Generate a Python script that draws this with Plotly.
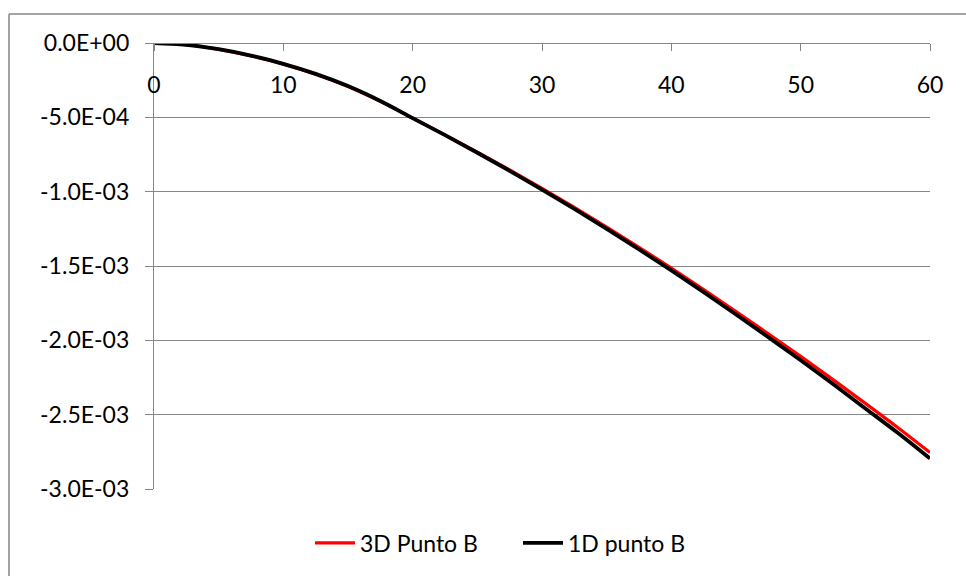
import plotly.graph_objects as go

# Horizontal position along the element (0 to 60)
x_vals = [0, 2.5, 5, 7.5, 10, 12.5, 15, 17.5, 20, 22.5, 25, 27.5, 30,
          32.5, 35, 37.5, 40, 42.5, 45, 47.5, 50, 52.5, 55, 57.5, 60]

# Vertical displacement at point B, 3D model (units of 1e-4)
punto_b_3d = [0, -0.12, -0.43, -0.87, -1.42, -2.10, -2.93, -3.93, -5.05,
              -6.18, -7.34, -8.54, -9.78, -11.06, -12.38, -13.74, -15.14,
              -16.58, -18.06, -19.56, -21.08, -22.64, -24.24, -25.86, -27.55]

# Vertical displacement at point B, 1D model (units of 1e-4)
punto_b_1d = [0, -0.12, -0.42, -0.85, -1.40, -2.08, -2.90, -3.90, -5.05,
              -6.20, -7.38, -8.60, -9.86, -11.16, -12.50, -13.88, -15.30,
              -16.76, -18.26, -19.79, -21.34, -22.94, -24.58, -26.22, -27.95]

series_names = ["3D Punto B", "1D punto B"]

x_ticks = [0, 10, 20, 30, 40, 50, 60]
y_ticks = [0, -0.0005, -0.001, -0.0015, -0.002, -0.0025, -0.003]
y_tick_text = ["0.0E+00", "-5.0E-04", "-1.0E-03", "-1.5E-03",
               "-2.0E-03", "-2.5E-03", "-3.0E-03"]

GRAY = "#868686"
FONT = dict(family="Lato, 'Open Sans', sans-serif", size=23, color="#000000")

W, H = 966, 576
ML, MR, MT, MB = 154, 36, 43, 87
PW, PH = W - ML - MR, H - MT - MB


def px_to_paper_x(px):
    return (px - ML) / PW


def px_to_paper_y(py):
    return (H - MB - py) / PH


fig = go.Figure()
fig.add_trace(go.Scatter(
    x=x_vals, y=[v * 1e-4 for v in punto_b_3d], name=series_names[0],
    mode="lines", line=dict(color="#FF0000", width=3.2, shape="spline"),
))
fig.add_trace(go.Scatter(
    x=x_vals, y=[v * 1e-4 for v in punto_b_1d], name=series_names[1],
    mode="lines", line=dict(color="#000000", width=3.8, shape="spline"),
))

# Outer chart-area frame (left and top edges, running off the canvas)
left_x = px_to_paper_x(9)
top_y = px_to_paper_y(14)
fig.add_shape(type="line", xref="paper", yref="paper",
              x0=left_x, x1=left_x, y0=top_y, y1=px_to_paper_y(590),
              line=dict(color=GRAY, width=1.5))
fig.add_shape(type="line", xref="paper", yref="paper",
              x0=left_x, x1=px_to_paper_x(980), y0=top_y, y1=top_y,
              line=dict(color=GRAY, width=1.5))

fig.update_layout(
    width=W, height=H,
    margin=dict(l=ML, r=MR, t=MT, b=MB),
    paper_bgcolor="white", plot_bgcolor="white",
    font=FONT,
    showlegend=True,
    legend=dict(
        orientation="h", x=px_to_paper_x(310), xanchor="left",
        y=px_to_paper_y(543), yanchor="middle",
        font=FONT, bgcolor="rgba(0,0,0,0)", itemwidth=40,
        entrywidth=153, entrywidthmode="pixels",
    ),
    xaxis=dict(
        range=[0, 60], tickvals=x_ticks, ticktext=[str(t) for t in x_ticks],
        anchor="free", position=1, side="bottom",
        showgrid=False, zeroline=False,
        showline=True, linecolor=GRAY, linewidth=1.3,
        ticks="outside", ticklen=7, tickcolor=GRAY, tickwidth=1.3,
        ticklabelstandoff=14,
    ),
    yaxis=dict(
        range=[-0.003, 0], tickvals=y_ticks, ticktext=y_tick_text,
        showgrid=True, gridcolor=GRAY, gridwidth=1.3, zeroline=False,
        showline=True, linecolor=GRAY, linewidth=1.3,
        ticks="outside", ticklen=8, tickcolor=GRAY, tickwidth=1.3,
        ticklabelstandoff=11,
    ),
)

fig.write_html("out.html")
